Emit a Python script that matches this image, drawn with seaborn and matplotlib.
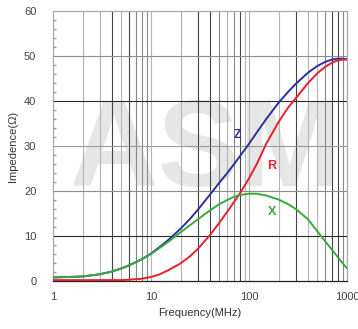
import numpy as np
import pandas as pd
import matplotlib
matplotlib.use('Agg')
import matplotlib.pyplot as plt
import seaborn as sns

# frequency points (MHz) and curves
freq = [1, 1.5, 2, 3, 4, 5, 6, 8, 10, 12, 15, 20, 25, 30, 40, 50, 60, 70, 80,
        100, 120, 150, 200, 250, 300, 400, 500, 600, 700, 800, 900, 1000]
z_vals = [0.8, 0.9, 1.0, 1.5, 2.1, 2.8, 3.5, 4.8, 6.1, 7.4, 9.1, 11.6, 13.8, 15.8,
          19.2, 21.9, 24.0, 25.9, 27.6, 30.5, 33.0, 36.0, 39.6, 42.0, 43.8, 46.3,
          47.8, 48.7, 49.2, 49.4, 49.4, 49.3]
r_vals = [0.2, 0.2, 0.2, 0.2, 0.2, 0.2, 0.3, 0.5, 0.9, 1.4, 2.4, 3.9, 5.5, 7.1,
          10.2, 13.0, 15.4, 17.5, 19.3, 22.8, 26.0, 30.5, 35.3, 38.5, 40.6, 44.0,
          46.2, 47.6, 48.5, 49.0, 49.2, 49.2]
x_vals = [0.8, 0.9, 1.0, 1.5, 2.1, 2.8, 3.5, 4.8, 6.0, 7.2, 8.7, 10.8, 12.4, 13.7,
          15.7, 17.1, 18.0, 18.7, 19.1, 19.4, 19.4, 19.0, 18.1, 17.1, 16.0, 13.7,
          11.0, 8.8, 7.0, 5.4, 4.0, 2.8]

series = ['Z', 'R', 'X']
colors = {'Z': '#2e2e9e', 'R': '#e8202c', 'X': '#3aa83a'}

df = pd.concat([
    pd.DataFrame({'freq': freq, 'imp': v, 'curve': s})
    for s, v in zip(series, [z_vals, r_vals, x_vals])
])

sns.set_theme(style="white")
plt.rcParams['font.family'] = ['Liberation Sans', 'DejaVu Sans']

fig = plt.figure(figsize=(3.58, 3.29), dpi=100)
ax = fig.add_axes([53/358, 1 - 281/329, 294/358, 270/329])

# background watermark
ax.text(0.52, 0.47, 'ASM', transform=ax.transAxes, fontsize=88, fontweight='bold',
        color='#e6e6e6', ha='center', va='center', zorder=0)

# grid lines with the uneven darkness of the original
dark_v = [4, 6, 30, 40, 80, 300, 700, 800]
mid_v = [7, 8, 9, 50, 70, 600, 900]
for dec in [1, 10, 100]:
    for m in range(2, 11):
        f = dec * m
        if f in dark_v:
            c = '#444444'
        elif f in mid_v:
            c = '#888888'
        else:
            c = '#b4b4b4'
        ax.axvline(f, color=c, lw=0.8, zorder=1)
for yv, c in [(10, '#2a2a2a'), (20, '#8c8c8c'), (30, '#9a9a9a'),
              (40, '#2a2a2a'), (50, '#8c8c8c')]:
    ax.axhline(yv, color=c, lw=0.8, zorder=1)

sns.lineplot(data=df, x='freq', y='imp', hue='curve', palette=colors,
             linewidth=1.4, legend=False, ax=ax, zorder=3)

ax.set_xscale('log')
ax.set_xlim(1, 1000)
ax.set_ylim(0, 60)
ax.set_xticks([1, 10, 100, 1000])
ax.set_xticklabels(['1', '10', '100', '1000'])
ax.set_yticks(range(0, 61, 10))
ax.set_yticks(range(0, 61, 2), minor=True)
ax.xaxis.set_minor_locator(matplotlib.ticker.NullLocator())
ax.tick_params(axis='both', which='major', length=0, labelsize=8,
               labelcolor='#444444')
ax.tick_params(axis='y', which='major', pad=12)
ax.tick_params(axis='x', which='major', pad=8)
ax.tick_params(axis='y', which='minor', direction='in', length=2.5,
               color='#999999', left=True)

for name, sp in ax.spines.items():
    sp.set_color('#aaaaaa')
    sp.set_linewidth(0.9)
ax.spines['bottom'].set_color('#222222')

ax.set_xlabel('Frequency(MHz)', fontsize=8, color='#333333', labelpad=4)
ax.set_ylabel('Impedence(Ω)', fontsize=8, color='#333333', labelpad=4)

ax.text(76, 32.5, 'Z', color=colors['Z'], fontsize=9, fontweight='bold',
        ha='center', va='center', zorder=4)
ax.text(170, 25.5, 'R', color=colors['R'], fontsize=9, fontweight='bold',
        ha='center', va='center', zorder=4)
ax.text(170, 15.3, 'X', color=colors['X'], fontsize=9, fontweight='bold',
        ha='center', va='center', zorder=4)

fig.savefig('out.png', dpi=100)
